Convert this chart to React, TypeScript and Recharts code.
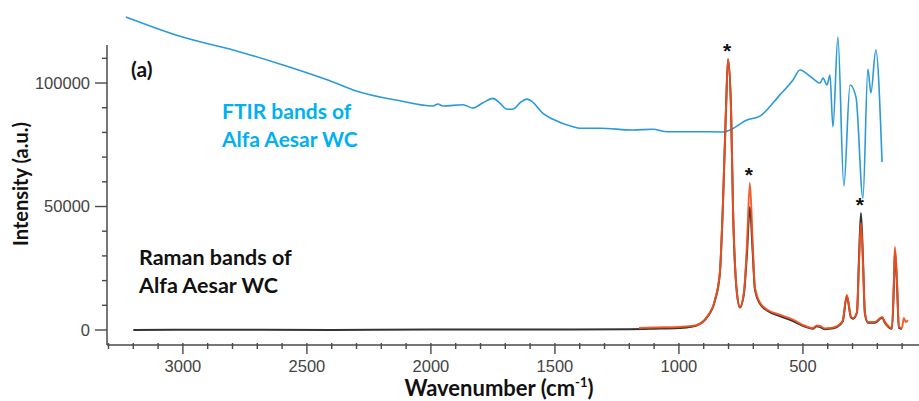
import { LineChart, Line, XAxis, YAxis, ReferenceLine, ReferenceDot } from 'recharts';

// FTIR trace, drawn on the same intensity scale (a.u.)
const ftirWavenumber = [
  3230, 3012, 2770, 2597, 2395, 2314, 2125, 1992, 1972, 1951, 1871, 1831, 1790, 1750, 1722,
  1693, 1669, 1637, 1613, 1593, 1548, 1508, 1427, 1399, 1318, 1185, 1105, 1048, 943, 823,
  794, 726, 673, 593, 540, 512, 472, 452, 431, 419, 403, 391, 379, 359, 335, 310, 286, 258,
  238, 226, 206, 181,
];
const ftirIntensity = [
  126700, 118900, 112600, 107300, 100400, 97200, 92800, 90700, 91500, 90700, 91200, 89900, 92000, 93800, 91900,
  89400, 89500, 92300, 93500, 92600, 87700, 85300, 82300, 81700, 81700, 81000, 81300, 80300, 80300, 80200,
  81000, 85000, 86600, 95200, 101200, 105300, 102800, 101200, 100000, 102000, 99200, 103200, 82200, 118600, 58300, 99200, 94300, 53400,
  105700, 96000, 113400, 68000,
];

// Raman spectrum, black trace
const ramanBlackWavenumber = [
  3200, 2800, 2400, 2000, 1600, 1200, 1100, 1000, 950, 927, 887, 855, 835, 823, 810, 802, 790, 782,
  766, 754, 738, 726, 714, 702, 694, 673, 640, 593, 540, 490, 460, 444, 431, 410, 391, 370, 351,
  339, 323, 306, 298, 282, 274, 266, 258, 250, 238, 210, 181, 169, 141, 133, 129, 121, 113, 101,
];
const ramanBlackIntensity = [
  0, 100, 0, 200, 200, 300, 500, 800, 1300, 1900, 5100, 11800, 22800, 49500, 90000, 109500, 90000, 49500,
  14800, 9100, 14600, 30500, 49800, 30500, 16800, 10600, 7600, 5600, 3600, 1300, 500, 1500, 1200, 300, 500, 900, 2100,
  3700, 13800, 5000, 4600, 7100, 29000, 47400, 29000, 6600, 2900, 2900, 5000, 2900, 500, 19000, 32000, 19000, 900, 400,
];

// Raman spectrum, red trace
const ramanRedWavenumber = [
  1161, 1100, 1000, 950, 927, 887, 855, 835, 823, 810, 802, 790, 782, 766, 754, 738, 726, 714,
  702, 694, 673, 640, 593, 540, 490, 460, 444, 431, 410, 391, 370, 351, 339, 323, 306, 298, 282,
  274, 266, 258, 250, 238, 210, 181, 169, 141, 133, 129, 121, 113, 101, 93, 85, 77,
];
const ramanRedIntensity = [
  800, 1000, 1200, 1600, 2000, 5300, 12100, 23100, 49800, 90300, 109700, 90300, 49800, 15000, 9300, 15000, 33600, 59500,
  33600, 17400, 11000, 8000, 6200, 4200, 1600, 800, 1800, 1600, 600, 800, 1200, 2400, 4000, 14200, 5300, 4900, 7300,
  27100, 43300, 27100, 6900, 3200, 3200, 5300, 3200, 800, 20200, 33600, 20200, 1200, 800, 4900, 3200, 4000,
];

// Bands marked with an asterisk
const markedBandWavenumber = [802, 714, 266];
const markedBandIntensity = [109700, 59500, 47400];

const xTicks = Array.from({ length: 33 }, (_, i) => (i + 1) * 100);
const yTicks = Array.from({ length: 12 }, (_, i) => i * 10000);

const ftirData = ftirWavenumber.map((w, i) => ({ w, v: ftirIntensity[i] }));
const blackData = ramanBlackWavenumber.map((w, i) => ({ w, v: ramanBlackIntensity[i] }));
const redData = ramanRedWavenumber.map((w, i) => ({ w, v: ramanRedIntensity[i] }));

const AXIS = '#4a4a4a';
const TICK_FONT = '"Liberation Sans", Arial, sans-serif';
const TITLE_FONT = 'Lato, "Open Sans", sans-serif';

function YTick({ x, y, payload }: any) {
  const major = payload.value % 50000 === 0;
  return (
    <g>
      <line x1={x - (major ? 12 : 5)} x2={x} y1={y} y2={y} stroke={AXIS} strokeWidth={1.4} />
      {major && (
        <text x={x - 17} y={y} dy="0.36em" textAnchor="end" fontSize={16.5} fontFamily={TICK_FONT} fill="#444">
          {payload.value}
        </text>
      )}
    </g>
  );
}

function XTick({ x, y, payload }: any) {
  const major = payload.value % 500 === 0;
  return (
    <g>
      <line x1={x} x2={x} y1={y - 2} y2={y + (major ? 9 : 4)} stroke={AXIS} strokeWidth={1.4} />
      {major && (
        <text x={x} y={y + 27} textAnchor="middle" fontSize={16.5} fontFamily={TICK_FONT} fill="#444">
          {payload.value}
        </text>
      )}
    </g>
  );
}

function Asterisk({ cx, cy }: any) {
  return (
    <text x={cx - 1} y={cy - 1} textAnchor="middle" fontSize={21} fontWeight={700} fontFamily={TICK_FONT} fill="#111">
      *
    </text>
  );
}

export default function App() {
  return (
    <div style={{ position: 'relative', width: 919, height: 401 }}>
      <style>{'body { margin: 0; }'}</style>
      <LineChart width={919} height={401} margin={{ top: 12, right: 0, bottom: 0, left: 0 }}>
        <XAxis
          dataKey="w"
          type="number"
          domain={[32, 3306]}
          allowDataOverflow
          reversed
          ticks={xTicks}
          interval={0}
          tickSize={0}
          tickMargin={0}
          tick={<XTick />}
          height={56}
          stroke={AXIS}
          strokeWidth={1.5}
        />
        <YAxis
          dataKey="v"
          type="number"
          domain={[-6073, 128757]}
          allowDataOverflow
          ticks={yTicks}
          interval={0}
          tickSize={0}
          tickMargin={0}
          tick={<YTick />}
          axisLine={false}
          width={107}
        />
        <ReferenceLine
          segment={[{ x: 3306, y: -6073 }, { x: 3306, y: 115400 }]}
          stroke={AXIS}
          strokeWidth={1.5}
        />
        <Line
          data={ftirData}
          dataKey="v"
          type="monotone"
          stroke="#2a9ad8"
          strokeWidth={1.6}
          dot={false}
          isAnimationActive={false}
        />
        <Line
          data={blackData}
          dataKey="v"
          type="monotone"
          stroke="#333333"
          strokeWidth={2}
          dot={false}
          isAnimationActive={false}
        />
        <Line
          data={redData}
          dataKey="v"
          type="monotone"
          stroke="#f4511e"
          strokeWidth={2}
          strokeOpacity={0.92}
          dot={false}
          isAnimationActive={false}
        />
        {markedBandWavenumber.map((w, i) => (
          <ReferenceDot key={w} x={w} y={markedBandIntensity[i]} r={0} shape={<Asterisk />} />
        ))}
      </LineChart>

      <svg width={919} height={401} style={{ position: 'absolute', left: 0, top: 0, pointerEvents: 'none' }}>
        <g fontFamily={TITLE_FONT} fontWeight={700}>
          <text x={131} y={77} fontSize={21} fill="#111">(a)</text>
          <text x={222} y={119} fontSize={21} fill="#00b0f0">FTIR bands of</text>
          <text x={222} y={147} fontSize={21} fill="#00b0f0">Alfa Aesar WC</text>
          <text x={139} y={265} fontSize={21.5} fill="#111">Raman bands of</text>
          <text x={139} y={293} fontSize={21.5} fill="#111">Alfa Aesar WC</text>
          <text
            x={28}
            y={184}
            fontSize={20}
            fill="#111"
            textAnchor="middle"
            transform="rotate(-90 28 184)"
          >
            Intensity (a.u.)
          </text>
          <text x={499} y={396} fontSize={22} fill="#111" textAnchor="middle">
            Wavenumber (cm
            <tspan fontSize={13} dy={-9}>-1</tspan>
            <tspan dy={9}>)</tspan>
          </text>
        </g>
      </svg>
    </div>
  );
}
